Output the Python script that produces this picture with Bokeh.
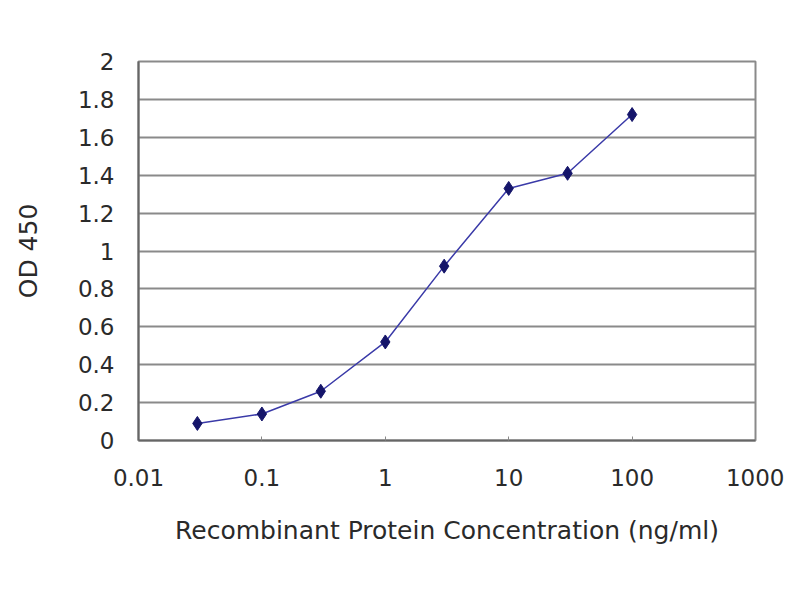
from bokeh.plotting import figure
from bokeh.models import FixedTicker, CustomJSTickFormatter, ColumnDataSource
from bokeh.embed import file_html
from bokeh.resources import INLINE

concentration = [0.03, 0.1, 0.3, 1, 3, 10, 30, 100]
od450 = [0.09, 0.14, 0.26, 0.52, 0.92, 1.33, 1.41, 1.72]
x_ticks = [0.01, 0.1, 1, 10, 100, 1000]
y_ticks = [0, 0.2, 0.4, 0.6, 0.8, 1, 1.2, 1.4, 1.6, 1.8, 2]

src = ColumnDataSource(dict(x=concentration, y=od450))

p = figure(width=784, height=584, x_axis_type="log", x_range=(0.01, 1000), y_range=(0, 2),
           output_backend="svg", toolbar_location=None,
           min_border_left=138, min_border_right=29, min_border_top=61, min_border_bottom=144)
p.background_fill_color = "white"
p.border_fill_color = "white"
p.outline_line_color = "#8a8a8a"
p.outline_line_width = 2

fmt = CustomJSTickFormatter(code="return String(Number(tick.toPrecision(6)));")
p.xaxis.ticker = FixedTicker(ticks=x_ticks)
p.yaxis.ticker = FixedTicker(ticks=y_ticks)
p.xaxis.formatter = fmt
p.yaxis.formatter = fmt

for ax in (p.xaxis[0], p.yaxis[0]):
    ax.major_label_text_font = "DejaVu Sans"
    ax.major_label_text_font_size = "23px"
    ax.major_label_text_color = "#2a2a2a"
    ax.axis_label_text_font = "DejaVu Sans"
    ax.axis_label_text_font_size = "25px"
    ax.axis_label_text_font_style = "normal"
    ax.axis_label_text_color = "#2a2a2a"
    ax.axis_line_color = "#666666"
    ax.axis_line_width = 2
    ax.major_tick_line_color = "#888888"
    ax.minor_tick_line_color = None

p.xaxis.axis_label = "Recombinant Protein Concentration (ng/ml)"
p.yaxis.axis_label = "OD 450"
p.xaxis.major_tick_in = 4
p.xaxis.major_tick_out = 0
p.yaxis.major_tick_in = 0
p.yaxis.major_tick_out = 0
p.xaxis.major_label_standoff = 28
p.yaxis.major_label_standoff = 24
p.xaxis.axis_label_standoff = 27
p.yaxis.axis_label_standoff = 32

p.xgrid.grid_line_color = None
p.ygrid.grid_line_color = "#8a8a8a"
p.ygrid.grid_line_width = 2

p.line("x", "y", source=src, line_color="#3a3aa8", line_width=1.5)
p.scatter("x", "y", source=src, marker="diamond", size=14, fill_color="#15156a", line_color="#15156a")

open("out.html", "w").write(file_html(p, INLINE))
